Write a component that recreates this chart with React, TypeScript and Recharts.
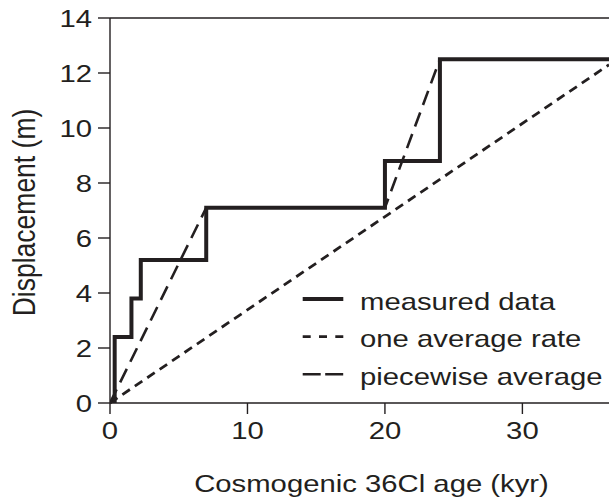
import { ComposedChart, Line, XAxis, YAxis, ReferenceLine, Label } from "recharts";

const FONT = '"Liberation Sans", Arial, Helvetica, sans-serif';
const INK = "#231f20";

// step outline of measured offsets (age kyr, displacement m)
const measuredAge = [0.34, 0.34, 1.56, 2.24, 7.0, 20.0, 24.0, 36.3];
const measuredDisp = [0, 2.4, 3.8, 5.2, 7.1, 8.8, 12.5, 12.5];

const oneRateAge = [0, 36.3];
const oneRateDisp = [0, 12.3];

const piecewiseAge = [0, 7.0, 20.0, 24.0];
const piecewiseDisp = [0, 7.1, 7.1, 12.5];

const xTicks = [0, 10, 20, 30];
const yTicks = [0, 2, 4, 6, 8, 10, 12, 14];
const legendLabels = ["measured data", "one average rate", "piecewise average"];

const toPoints = (xs: number[], ys: number[]) => xs.map((x, i) => ({ age: x, disp: ys[i] }));

const measured = toPoints(measuredAge, measuredDisp);
const oneRate = toPoints(oneRateAge, oneRateDisp);
const piecewise = toPoints(piecewiseAge, piecewiseDisp);

// the source figure's type is a bit wider than it is tall
const SX = 1.22;

function XTick({ x, y, payload }: any) {
  return (
    <text
      transform={`translate(${x},${y + 23}) scale(${SX},1)`}
      textAnchor="middle"
      fontSize={24}
      fill={INK}
      fontFamily={FONT}
    >
      {payload.value}
    </text>
  );
}

function YTick({ x, y, payload }: any) {
  return (
    <text
      transform={`translate(${x - 4},${y + 8.5}) scale(${SX},1)`}
      textAnchor="end"
      fontSize={24}
      fill={INK}
      fontFamily={FONT}
    >
      {payload.value}
    </text>
  );
}

function XTitle({ viewBox }: any) {
  const cx = viewBox.x + viewBox.width / 2 + 12;
  return (
    <text
      transform={`translate(${cx},${viewBox.y + 89}) scale(${SX},1)`}
      textAnchor="middle"
      fontSize={24}
      fill={INK}
      fontFamily={FONT}
    >
      Cosmogenic 36Cl age (kyr)
    </text>
  );
}

function YTitle({ viewBox }: any) {
  const cy = viewBox.y + viewBox.height / 2 + 2;
  return (
    <text
      transform={`translate(35,${cy}) rotate(-90) scale(1,1.15)`}
      textAnchor="middle"
      fontSize={26.5}
      fill={INK}
      fontFamily={FONT}
    >
      Displacement (m)
    </text>
  );
}

const legendDash = [undefined, "8 8.3", "18 4.5"];
const legendWidth = [4, 2.6, 2.6];

function LegendOverlay() {
  return (
    <svg width={609} height={502} style={{ position: "absolute", left: 0, top: 0, pointerEvents: "none" }}>
      {legendLabels.map((label, i) => {
        const y = 299 + i * 37.6;
        return (
          <g key={label}>
            <line x1={302.7} x2={343.3} y1={y} y2={y} stroke={INK} strokeWidth={legendWidth[i]} strokeDasharray={legendDash[i]} />
            <text
              transform={`translate(360,${y + 10.8}) scale(${SX},1)`}
              fontSize={24}
              fill={INK}
              fontFamily={FONT}
            >
              {label}
            </text>
          </g>
        );
      })}
    </svg>
  );
}

export default function App() {
  return (
    <div style={{ position: "absolute", left: 0, top: 0, width: 609, height: 502, background: "#fff" }}>
      <ComposedChart width={609} height={502} margin={{ top: 18, right: 0, bottom: 0, left: 0 }}>
        <XAxis
          dataKey="age"
          type="number"
          domain={[0, 36.3]}
          ticks={xTicks}
          allowDataOverflow
          height={99}
          tickSize={11}
          tickMargin={2}
          axisLine={{ stroke: INK, strokeWidth: 1.4 }}
          tickLine={{ stroke: INK, strokeWidth: 1.4 }}
          tick={<XTick />}
        >
          <Label content={<XTitle />} />
        </XAxis>
        <YAxis
          dataKey="disp"
          type="number"
          domain={[0, 14]}
          ticks={yTicks}
          width={110}
          tickSize={12}
          tickMargin={2}
          axisLine={{ stroke: INK, strokeWidth: 1.4 }}
          tickLine={{ stroke: INK, strokeWidth: 1.4 }}
          tick={<YTick />}
        >
          <Label content={<YTitle />} />
        </YAxis>
        <ReferenceLine y={14} stroke={INK} strokeWidth={1.4} />
        <Line
          data={oneRate}
          dataKey="disp"
          type="linear"
          stroke={INK}
          strokeWidth={2.8}
          strokeDasharray="9 6"
          dot={false}
          activeDot={false}
          isAnimationActive={false}
        />
        <Line
          data={piecewise}
          dataKey="disp"
          type="linear"
          stroke={INK}
          strokeWidth={2.6}
          strokeDasharray="15 8"
          dot={false}
          activeDot={false}
          isAnimationActive={false}
        />
        <Line
          data={measured}
          dataKey="disp"
          type="stepAfter"
          stroke={INK}
          strokeWidth={4}
          dot={false}
          activeDot={false}
          isAnimationActive={false}
        />
      </ComposedChart>
      <LegendOverlay />
    </div>
  );
}
